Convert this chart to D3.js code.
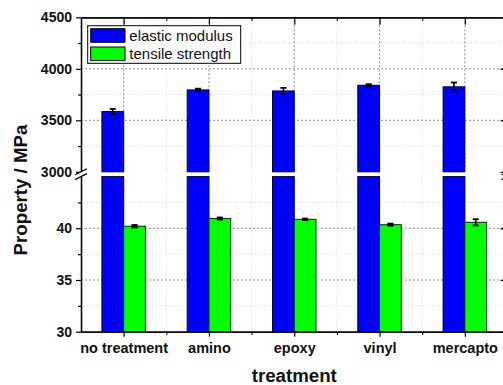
<!DOCTYPE html>
<html>
<head>
<meta charset="utf-8">
<script src="https://cdn.jsdelivr.net/npm/d3@7/dist/d3.min.js"></script>
<style>
  html, body { margin: 0; padding: 0; background: #fff; }
  svg { display: block; font-family: "Liberation Sans", Arial, sans-serif; }
</style>
</head>
<body>
<svg id="chart" width="503" height="385"></svg>
<script>
// Data: silane treatment vs. mechanical properties
const categories = ["no treatment", "amino", "epoxy", "vinyl", "mercapto"];
const modulus = [3585, 3795, 3785, 3840, 3825];
const modulusErr = [25, 12, 30, 10, 42];
const strength = [40.2, 40.95, 40.87, 40.35, 40.58];
const strengthErr = [0.12, 0.1, 0.07, 0.1, 0.3];
const upperTicks = [3000, 3500, 4000, 4500];
const upperMinor = [3250, 3750, 4250];
const lowerTicks = [30, 35, 40];
const lowerMinor = [32.5, 37.5, 42.5];
const seriesNames = ["elastic modulus", "tensile strength"];
const seriesColors = ["#0000ff", "#00ff00"];

const svg = d3.select("#chart");
const plotL = 81, plotR = 507.5, plotT = 17.3, plotB = 331.7;
const breakTop = 171.8, breakBottom = 176.6;

const x = d3.scaleLinear().domain([0.5, categories.length + 0.5]).range([plotL, plotR]);
const yU = d3.scaleLinear().domain([3000, 4500]).range([breakTop, plotT]);
const yL = d3.scaleLinear().domain([30, 45]).range([plotB, breakBottom]);
const barW = x(1.255) - x(1);

svg.append("rect").attr("width", 503).attr("height", 385).attr("fill", "#fff");

const grid = svg.append("g");
// minor grid (dotted)
const minorY = upperMinor.map(v => yU(v)).concat(lowerMinor.map(v => yL(v)));
grid.selectAll(".hmin").data(minorY).join("line")
  .attr("x1", plotL).attr("x2", plotR).attr("y1", d => d).attr("y2", d => d)
  .attr("stroke", "#d4d4d4").attr("stroke-width", 1).attr("stroke-dasharray", "1,2");
const midX = d3.range(1.5, categories.length, 1).map(v => x(v));
[[plotT, breakTop], [breakBottom, plotB]].forEach(([a, b]) => {
  grid.append("g").selectAll("line").data(midX).join("line")
    .attr("x1", d => d).attr("x2", d => d).attr("y1", a).attr("y2", b)
    .attr("stroke", "#d4d4d4").attr("stroke-width", 1).attr("stroke-dasharray", "1,2");
});
// major grid (dashed)
const majorY = [4000, 3500].map(v => yU(v)).concat([40, 35].map(v => yL(v)));
grid.append("g").selectAll("line").data(majorY).join("line")
  .attr("x1", plotL).attr("x2", plotR).attr("y1", d => d).attr("y2", d => d)
  .attr("stroke", "#8c8c8c").attr("stroke-width", 1).attr("stroke-dasharray", "2,2");
[[plotT, breakTop], [breakBottom, plotB]].forEach(([a, b]) => {
  grid.append("g").selectAll("line").data(categories).join("line")
    .attr("x1", (d, i) => x(i + 1)).attr("x2", (d, i) => x(i + 1)).attr("y1", a).attr("y2", b)
    .attr("stroke", "#8c8c8c").attr("stroke-width", 1).attr("stroke-dasharray", "2,2");
});

// bars
const bars = svg.append("g");
// elastic modulus: upper segment + lower segment (continues through the break)
bars.append("g").selectAll("rect").data(modulus).join("rect")
  .attr("x", (d, i) => x(i + 1) - barW).attr("width", barW)
  .attr("y", d => yU(d)).attr("height", d => breakTop - yU(d))
  .attr("fill", seriesColors[0]).attr("stroke", "#00003a").attr("stroke-width", 1);
bars.append("g").selectAll("rect").data(modulus).join("rect")
  .attr("x", (d, i) => x(i + 1) - barW).attr("width", barW)
  .attr("y", yL(45)).attr("height", plotB - yL(45))
  .attr("fill", seriesColors[0]).attr("stroke", "#00003a").attr("stroke-width", 1);
bars.append("g").selectAll("rect").data(strength).join("rect")
  .attr("x", (d, i) => x(i + 1)).attr("width", barW)
  .attr("y", d => yL(d)).attr("height", d => plotB - yL(d))
  .attr("fill", seriesColors[1]).attr("stroke", "#0a2a0a").attr("stroke-width", 1);

// error bars
function errorBars(vals, errs, scale, dx) {
  const g = svg.append("g").attr("stroke", "#000");
  vals.forEach((v, i) => {
    const cx = x(i + 1) + dx;
    const y1 = scale(v + errs[i]), y2 = scale(v - errs[i]);
    g.append("line").attr("x1", cx).attr("x2", cx).attr("y1", y1).attr("y2", y2).attr("stroke-width", 1.6);
    [y1, y2].forEach(yy => g.append("line")
      .attr("x1", cx - 3).attr("x2", cx + 3).attr("y1", yy).attr("y2", yy).attr("stroke-width", 1.8));
    if (Math.abs(y2 - y1) < 3) {
      g.append("rect").attr("x", cx - 3).attr("y", Math.min(y1, y2)).attr("width", 6)
        .attr("height", Math.abs(y2 - y1)).attr("fill", "#000").attr("stroke", "none");
    }
  });
}
errorBars(modulus, modulusErr, yU, -barW / 2);
errorBars(strength, strengthErr, yL, barW / 2);

// axes
const axes = svg.append("g");
const tickFont = g => g.selectAll("text")
  .attr("font-size", "14px").attr("font-weight", "bold").attr("fill", "#111");

const leftU = axes.append("g").attr("transform", `translate(${plotL},0)`)
  .call(d3.axisLeft(yU).tickValues(upperTicks).tickSize(5).tickSizeOuter(0).tickPadding(4).tickFormat(d3.format("d")));
const leftL = axes.append("g").attr("transform", `translate(${plotL},0)`)
  .call(d3.axisLeft(yL).tickValues(lowerTicks).tickSize(5).tickSizeOuter(0).tickPadding(4).tickFormat(d3.format("d")));
axes.append("g").attr("transform", `translate(${plotL},0)`)
  .call(d3.axisLeft(yU).tickValues(upperMinor).tickSize(3).tickSizeOuter(0).tickFormat(""));
axes.append("g").attr("transform", `translate(${plotL},0)`)
  .call(d3.axisLeft(yL).tickValues(lowerMinor).tickSize(3).tickSizeOuter(0).tickFormat(""));
[leftU, leftL].forEach(tickFont);

// right axis (inward ticks)
[[yU, upperTicks, upperMinor], [yL, lowerTicks, lowerMinor]].forEach(([s, maj, min]) => {
  axes.append("g").attr("transform", `translate(${plotR},0)`)
    .call(d3.axisLeft(s).tickValues(maj).tickSize(7).tickSizeOuter(0).tickFormat(""));
  axes.append("g").attr("transform", `translate(${plotR},0)`)
    .call(d3.axisLeft(s).tickValues(min).tickSize(3.5).tickSizeOuter(0).tickFormat(""));
});

// bottom axis
const bottomAx = axes.append("g").attr("transform", `translate(0,${plotB})`)
  .call(d3.axisBottom(x).tickValues(d3.range(1, categories.length + 1)).tickSize(5).tickSizeOuter(0)
    .tickPadding(6).tickFormat(d => categories[d - 1]));
bottomAx.selectAll("text").attr("font-size", "14.5px").attr("font-weight", "bold").attr("fill", "#111");
axes.append("g").attr("transform", `translate(0,${plotB})`)
  .call(d3.axisBottom(x).tickValues(d3.range(1.5, categories.length, 1)).tickSize(3).tickSizeOuter(0).tickFormat(""));

// top axis (inward ticks)
const topAx = axes.append("g").attr("transform", `translate(0,${plotT})`)
  .call(d3.axisTop(x).tickValues(d3.range(1, categories.length + 1)).tickSize(-7.5).tickSizeOuter(0).tickFormat(""));
axes.append("g").attr("transform", `translate(0,${plotT})`)
  .call(d3.axisTop(x).tickValues(d3.range(1.5, categories.length, 1)).tickSize(-3.5).tickSizeOuter(0).tickFormat(""));

axes.selectAll(".domain").attr("stroke", "#000").attr("stroke-width", 1.3);
axes.selectAll(".tick line").attr("stroke", "#000").attr("stroke-width", 1.2);
topAx.select(".domain").attr("stroke", "#444").attr("stroke-width", 1.8);

// break marks on the vertical axes
[plotL, plotR].forEach(ax => {
  svg.append("rect").attr("x", ax - 2).attr("y", breakTop + 0.5).attr("width", 4)
    .attr("height", breakBottom - breakTop - 1).attr("fill", "#fff");
  [breakTop, breakBottom].forEach(by => svg.append("line")
    .attr("x1", ax - 6).attr("y1", by + 3).attr("x2", ax + 6).attr("y2", by - 3)
    .attr("stroke", "#000").attr("stroke-width", 1.2));
});

// legend
const lg = svg.append("g");
lg.append("rect").attr("x", 87.7).attr("y", 25.7).attr("width", 153).attr("height", 37.6)
  .attr("fill", "#fff").attr("stroke", "#000").attr("stroke-width", 1);
seriesNames.forEach((name, i) => {
  const yy = 28.7 + i * 18.3;
  lg.append("rect").attr("x", 90.7).attr("y", yy).attr("width", 34.3).attr("height", 13.6)
    .attr("fill", seriesColors[i]).attr("stroke", "#000").attr("stroke-width", 1);
  lg.append("text").attr("x", 129.3).attr("y", yy + 12).attr("font-size", "15px")
    .attr("fill", "#111").text(name);
});

// axis titles
svg.append("text").attr("x", (plotL + plotR) / 2).attr("y", 382).attr("text-anchor", "middle")
  .attr("font-size", "18.7px").attr("font-weight", "bold").attr("fill", "#111").text("treatment");
svg.append("text").attr("transform", "translate(26.5,190) rotate(-90)").attr("text-anchor", "middle")
  .attr("font-size", "18.7px").attr("font-weight", "bold").attr("fill", "#111").text("Property / MPa");
</script>
</body>
</html>
